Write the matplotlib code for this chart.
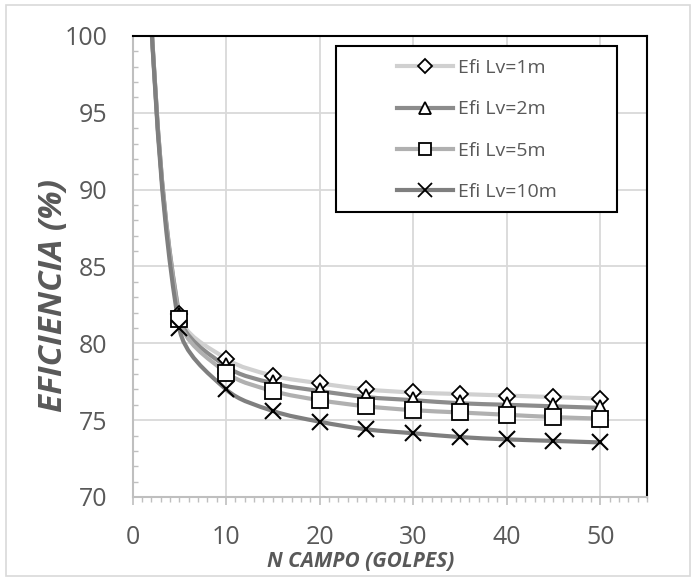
import matplotlib
matplotlib.use('Agg')
import matplotlib.pyplot as plt
import numpy as np
from matplotlib.path import Path
from matplotlib.patches import PathPatch, Rectangle
from matplotlib.lines import Line2D
from matplotlib.ticker import MultipleLocator

plt.rcParams['font.family'] = ['Open Sans', 'DejaVu Sans']

# first point (N=1) lies off the chart, only the smoothed lines reach it
n_campo = [1, 5, 10, 15, 20, 25, 30, 35, 40, 45, 50]
efi_1 = [110, 81.9, 79.0, 77.9, 77.4, 77.0, 76.8, 76.7, 76.6, 76.5, 76.4]
efi_2 = [110, 81.8, 78.5, 77.4, 76.9, 76.5, 76.3, 76.1, 76.0, 75.9, 75.8]
efi_5 = [110, 81.6, 78.1, 76.9, 76.3, 75.9, 75.65, 75.5, 75.35, 75.2, 75.1]
efi_10 = [110, 81.0, 77.0, 75.6, 74.9, 74.4, 74.15, 73.9, 73.75, 73.65, 73.55]
labels = ['Efi Lv=1m', 'Efi Lv=2m', 'Efi Lv=5m', 'Efi Lv=10m']

series = [efi_1, efi_2, efi_5, efi_10]
colors = ['#d0d0d0', '#8c8c8c', '#b0b0b0', '#7f7f7f']
markers = ['D', '^', 's', 'x']
msizes = [8.5, 11, 11, 12]

TXT = '#595959'
GRID = '#d9d9d9'
AXC = '#bfbfbf'


def smooth_path(ax, x, y):
    # smoothed line like excel: bezier segments, tangents from neighbours,
    # handle length scaled by the segment chord (done in screen space)
    pts = ax.transData.transform(np.column_stack([x, y]).astype(float))
    n = len(pts)
    verts = [pts[0]]
    codes = [Path.MOVETO]
    for i in range(n - 1):
        p0 = pts[i - 1] if i > 0 else pts[i]
        p1 = pts[i]
        p2 = pts[i + 1]
        p3 = pts[i + 2] if i + 2 < n else pts[i + 1]
        d = np.linalg.norm(p2 - p1) / 3
        t1 = p2 - p0
        t2 = p3 - p1
        c1 = p1 + t1 / np.linalg.norm(t1) * d
        c2 = p2 - t2 / np.linalg.norm(t2) * d
        verts += [c1, c2, p2]
        codes += [Path.CURVE4] * 3
    verts = ax.transData.inverted().transform(np.array(verts))
    return Path(verts, codes)


fig = plt.figure(figsize=(6.96, 5.81), dpi=100)
ax = fig.add_axes([0.1904, 0.1446, 0.7392, 0.7935])
ax.set_xlim(0, 55)
ax.set_ylim(70, 100)

for vals, c in zip(series, colors):
    ax.add_patch(PathPatch(smooth_path(ax, n_campo, vals), facecolor='none', edgecolor=c,
                           lw=3, capstyle='round', zorder=2))

for k, (vals, m, ms) in enumerate(zip(series, markers, msizes)):
    ax.plot(n_campo, vals, linestyle='none', marker=m, ms=ms, mfc='white', mec='black',
            mew=1.3 if m != 'x' else 1.5, zorder=3 + 0.1 * k)

ax.set_xlim(0, 55)
ax.set_ylim(70, 100)
ax.xaxis.set_major_locator(MultipleLocator(10))
ax.xaxis.set_minor_locator(MultipleLocator(1))
ax.yaxis.set_major_locator(MultipleLocator(5))
ax.yaxis.set_minor_locator(MultipleLocator(1))
ax.set_xticks([0, 10, 20, 30, 40, 50])

ax.grid(True, which='major', color=GRID, lw=1.3, zorder=0)
ax.set_axisbelow(True)

ax.tick_params(axis='x', which='major', direction='out', length=6, width=1.2, color=AXC,
               labelsize=18, labelcolor=TXT, pad=14)
ax.tick_params(axis='x', which='minor', direction='out', length=3.6, width=1, color=AXC)
ax.tick_params(axis='y', which='major', length=0, labelsize=18, labelcolor=TXT, pad=18)
ax.tick_params(axis='y', which='minor', direction='in', length=3.6, width=1, color=AXC)

for s in ['left', 'bottom']:
    ax.spines[s].set_color(AXC)
    ax.spines[s].set_linewidth(1.5)
for s in ['top', 'right']:
    ax.spines[s].set_color('black')
    ax.spines[s].set_linewidth(1.5)

ax.set_xlabel('N CAMPO (GOLPES)', fontsize=15, fontweight='bold', fontstyle='italic',
              color=TXT)
ax.set_ylabel('EFICIENCIA (%)', fontsize=24, fontweight='bold', fontstyle='italic',
              color=TXT)
ax.xaxis.set_label_coords(0.444, -0.141)
ax.xaxis.label.set_verticalalignment('center')
ax.yaxis.set_label_coords(-0.153, 0.436)
ax.yaxis.label.set_verticalalignment('center')

# legend box
ax.add_patch(Rectangle((0.3955, 0.618), 0.5462, 0.36, transform=ax.transAxes,
                       facecolor='white', edgecolor='black', lw=1.5, zorder=4))
handles = [Line2D([], [], color=c, lw=3, marker=m, ms=ms, mfc='white', mec='black', mew=1.3)
           for c, m, ms in zip(colors, markers, msizes)]
leg = ax.legend(handles, labels, loc='upper left', bbox_to_anchor=(0.514, 0.95),
                frameon=False, borderpad=0, borderaxespad=0, handlelength=2.9,
                handletextpad=0.25, labelspacing=1.2, fontsize=14, labelcolor=TXT,
                markerscale=0.8)
leg.set_zorder(5)

# chart area border
fig.add_artist(Rectangle((6 / 696, 1 - 576 / 581), 684 / 696, 571 / 581,
                         transform=fig.transFigure, fill=False, ec=GRID, lw=1.2))

fig.savefig('out.png', dpi=100)
